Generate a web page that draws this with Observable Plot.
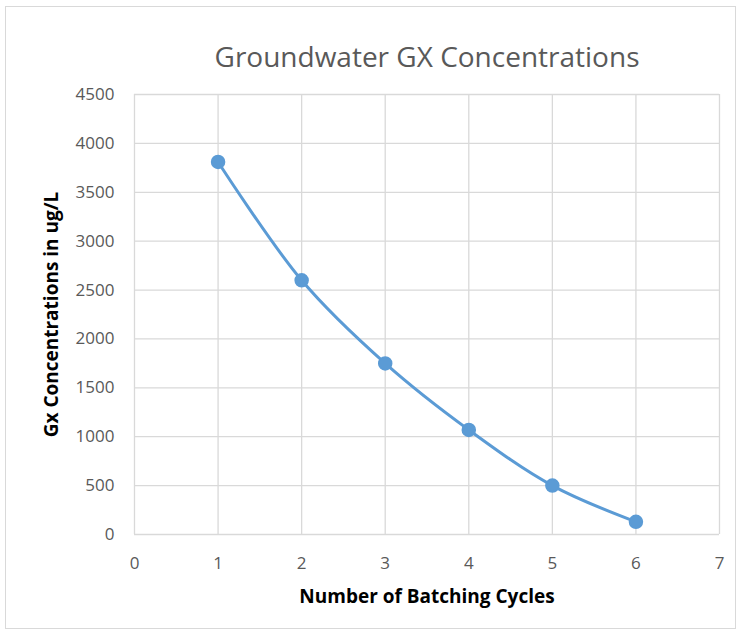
<!DOCTYPE html>
<html>
<head>
<meta charset="utf-8">
<script src="https://cdn.jsdelivr.net/npm/d3@7"></script>
<script src="https://cdn.jsdelivr.net/npm/@observablehq/plot@0.6"></script>
<style>
  html, body { margin: 0; padding: 0; background: #fff; }
  #wrap { position: relative; width: 741px; height: 635px; overflow: hidden; }
  #border { position: absolute; left: 5px; top: 6px; width: 731px; height: 623px; border: 1px solid #d9d9d9; box-sizing: border-box; pointer-events: none; }
  svg { position: absolute; left: 0; top: 0; }
</style>
</head>
<body>
<div id="wrap"><div id="border"></div></div>
<script>
const cycles = [1, 2, 3, 4, 5, 6];
const concentrations = [3810, 2600, 1750, 1070, 500, 130];
const xTicks = [0, 1, 2, 3, 4, 5, 6, 7];
const yTicks = [0, 500, 1000, 1500, 2000, 2500, 3000, 3500, 4000, 4500];
const title = "Groundwater GX Concentrations";
const xLabel = "Number of Batching Cycles";
const yLabel = "Gx Concentrations in ug/L";

const data = cycles.map((c, i) => ({cycle: c, value: concentrations[i]}));
const font = "'Open Sans', sans-serif";

const chart = Plot.plot({
  width: 741,
  height: 635,
  marginLeft: 134,
  marginRight: 22,
  marginTop: 94,
  marginBottom: 101,
  style: {fontFamily: font, fontSize: "17px", color: "#595959", background: "transparent"},
  x: {domain: [0, 7], ticks: xTicks, label: null},
  y: {domain: [0, 4500], ticks: yTicks, label: null},
  marks: [
    Plot.gridX(xTicks, {stroke: "#d9d9d9", strokeOpacity: 1, strokeWidth: 1.3}),
    Plot.gridY(yTicks, {stroke: "#d9d9d9", strokeOpacity: 1, strokeWidth: 1.3}),
    Plot.axisX(xTicks, {tickSize: 0, tickPadding: 22, fontSize: 17, fill: "#595959", label: null, tickFormat: d => String(d)}),
    Plot.axisY(yTicks, {tickSize: 0, tickPadding: 20, fontSize: 17, fill: "#595959", label: null, tickFormat: d => String(d)}),
    Plot.line(data, {x: "cycle", y: "value", stroke: "#5b9bd5", strokeWidth: 3, curve: "catmull-rom"}),
    Plot.dot(data, {x: "cycle", y: "value", r: 6.5, fill: "#5b9bd5", stroke: "#5b9bd5"}),
    Plot.text([title], {frameAnchor: "top", dy: -47, text: d => d, fontSize: 28, fill: "#595959", fontFamily: font}),
    Plot.text([xLabel], {frameAnchor: "bottom", dy: 68, text: d => d, fontSize: 19, fontWeight: "bold", fill: "#000", fontFamily: font}),
    Plot.text([yLabel], {frameAnchor: "left", dx: -83, rotate: -90, textAnchor: "middle", text: d => d, fontSize: 19, fontWeight: "bold", fill: "#000", fontFamily: font})
  ]
});
document.getElementById("wrap").appendChild(chart);
</script>
</body>
</html>
